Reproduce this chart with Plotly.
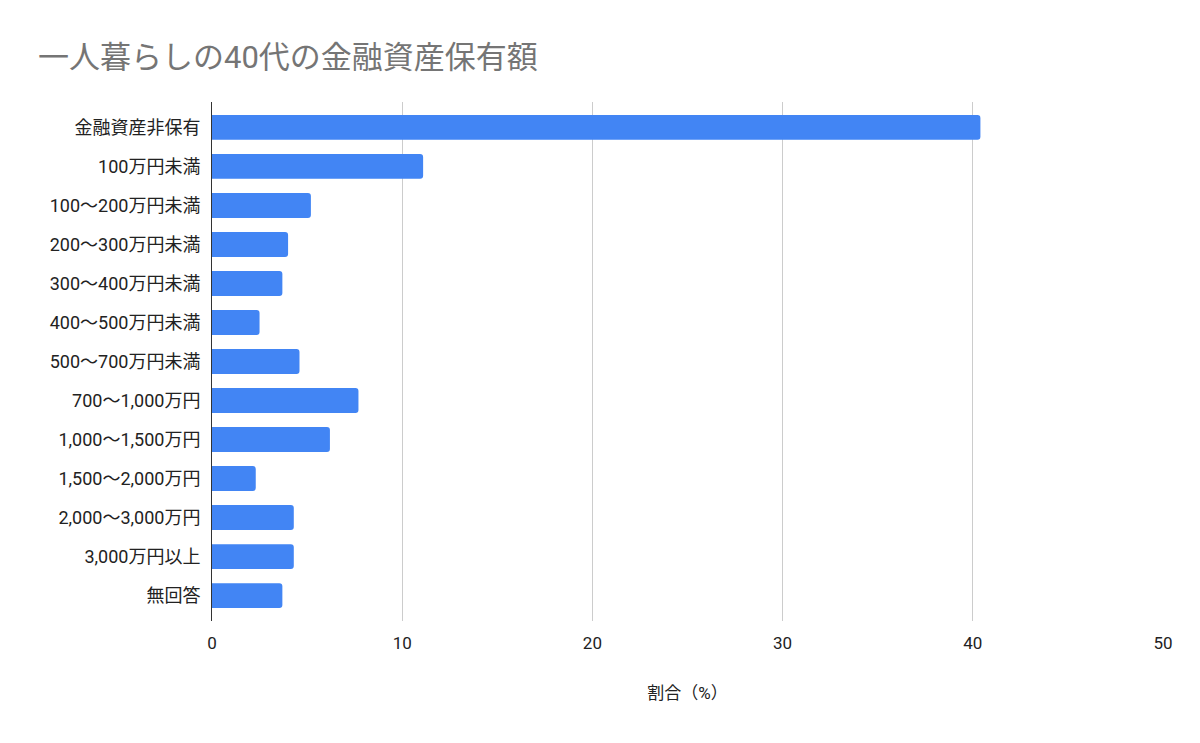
import plotly.graph_objects as go

categories = ["金融資産非保有", "100万円未満", "100～200万円未満", "200～300万円未満",
              "300～400万円未満", "400～500万円未満", "500～700万円未満", "700～1,000万円",
              "1,000～1,500万円", "1,500～2,000万円", "2,000～3,000万円", "3,000万円以上", "無回答"]
values = [40.4, 11.1, 5.2, 4.0, 3.7, 2.5, 4.6, 7.7, 6.2, 2.3, 4.3, 4.3, 3.7]
x_ticks = [0, 10, 20, 30, 40, 50]

font_family = "Roboto, 'Noto Sans CJK JP', sans-serif"

fig = go.Figure(go.Bar(
    y=categories, x=values, orientation="h",
    marker=dict(color="#4285F4", line=dict(width=0)),
))

fig.update_layout(
    width=1200, height=743,
    paper_bgcolor="white", plot_bgcolor="white",
    margin=dict(l=204, r=45, t=94, b=130),
    bargap=0.36, barcornerradius=3,
    showlegend=False,
    font=dict(family=font_family, size=17, color="#222222"),
    title=dict(text="一人暮らしの40代の金融資産保有額", x=0.025, xanchor="left",
               y=0.934, yanchor="middle",
               font=dict(family=font_family, size=31, color="#757575")),
)
fig.update_xaxes(
    range=[0, 50], tickvals=x_ticks, showgrid=True, gridcolor="#cccccc", gridwidth=1,
    zeroline=False, showline=False, ticks="", ticklabelstandoff=10,
    tickfont=dict(size=17, color="#222222"),
    title=dict(text="割合（%）", standoff=35, font=dict(size=17, color="#222222")),
)
fig.update_yaxes(
    type="category", range=[12.65, -0.65], showgrid=False, zeroline=False,
    showline=True, linecolor="#333333", linewidth=1, ticks="", ticklabelstandoff=7,
    tickfont=dict(size=18, color="#222222"),
)

fig.write_html("out.html")
